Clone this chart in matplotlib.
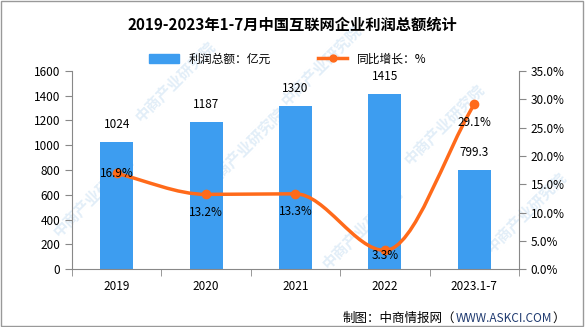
import matplotlib.pyplot as plt
from matplotlib.path import Path
from matplotlib.patches import PathPatch, Rectangle
from matplotlib.lines import Line2D

plt.rcParams['font.family'] = ['Noto Sans CJK SC', 'DejaVu Sans']

years = ['2019', '2020', '2021', '2022', '2023.1-7']
profit = [1024, 1187, 1320, 1415, 799.3]
profit_labels = ['1024', '1187', '1320', '1415', '799.3']
growth = [16.9, 13.2, 13.3, 3.3, 29.1]
growth_labels = ['16.9%', '13.2%', '13.3%', '3.3%', '29.1%']

bar_color = '#3d9df0'
line_color = '#ff6a1a'
axis_color = '#888888'

fig = plt.figure(figsize=(5.85, 3.27), dpi=100)
ax = fig.add_axes([0.123, 0.177, 0.764, 0.606])
ax2 = ax.twinx()
ax.set_facecolor('none')
ax2.set_facecolor('none')

# faint watermarks behind the plot
for wx, wy in [(0.16, 0.40), (0.42, 0.55), (0.62, 0.30), (0.76, 0.62),
               (0.30, 0.75), (0.90, 0.35), (0.55, 0.80)]:
    fig.text(wx, wy, '中商产业研究院', rotation=45, fontsize=11, color='#e2eef8',
             ha='center', va='center', fontweight='bold', zorder=-1)

x = list(range(len(years)))
ax.bar(x, profit, width=0.37, color=bar_color, zorder=2)
for xi, v, s in zip(x, profit, profit_labels):
    ax.annotate(s, (xi, v), xytext=(0, 8), textcoords='offset points',
                ha='center', va='bottom', fontsize=8.5)

ax.set_xlim(-0.5, len(years) - 0.5)
ax.set_ylim(0, 1600)
ax.set_yticks(range(0, 1601, 200))
ax.set_xticks(x)
ax.set_xticklabels(years)
ax.set_xticks([i - 0.5 for i in range(len(years) + 1)], minor=True)
ax.tick_params(axis='x', which='major', length=0, pad=8, labelsize=8.5)
ax.tick_params(axis='x', which='minor', length=5, color=axis_color)
ax.tick_params(axis='y', length=5, color=axis_color, labelsize=8.5)
for s in ['top', 'right']:
    ax.spines[s].set_visible(False)
for s in ['left', 'bottom']:
    ax.spines[s].set_color(axis_color)

ax2.set_ylim(0, 35)
ax2.set_yticks([i * 5 for i in range(8)])
ax2.set_yticklabels(['%.1f%%' % (i * 5) for i in range(8)])
ax2.tick_params(axis='y', length=5, color=axis_color, labelsize=8.5)
for s in ['top', 'left', 'bottom']:
    ax2.spines[s].set_visible(False)
ax2.spines['right'].set_color(axis_color)

# smooth line through the growth points (flat tangent at turning points)
n = len(x)
tang = []
for i in range(n):
    if i == 0:
        tang.append(growth[1] - growth[0])
    elif i == n - 1:
        tang.append(growth[-1] - growth[-2])
    else:
        d1 = growth[i] - growth[i - 1]
        d2 = growth[i + 1] - growth[i]
        tang.append(0 if d1 * d2 <= 0 else (d1 + d2) / 2)
verts = [(x[0], growth[0])]
codes = [Path.MOVETO]
for i in range(n - 1):
    verts += [(x[i] + 1 / 3, growth[i] + tang[i] / 3),
              (x[i + 1] - 1 / 3, growth[i + 1] - tang[i + 1] / 3),
              (x[i + 1], growth[i + 1])]
    codes += [Path.CURVE4] * 3
ax2.add_patch(PathPatch(Path(verts, codes), facecolor='none', edgecolor=line_color,
                        lw=2.5, zorder=3))
ax2.plot(x, growth, 'o', color=line_color, ms=6, zorder=4)

label_offsets = [0, -13, -13, -4, -13]
for xi, v, s, off in zip(x, growth, growth_labels, label_offsets):
    ax2.annotate(s, (xi, v), xytext=(0, off), textcoords='offset points',
                 ha='center', va='center', fontsize=8.5, zorder=5)

fig.text(0.5, 1 - 25 / 327, '2019-2023年1-7月中国互联网企业利润总额统计',
         ha='center', va='center', fontsize=11, fontweight='bold')

handles = [Rectangle((0, 0), 1, 1, color=bar_color),
           Line2D([], [], color=line_color, lw=2.5, marker='o', ms=5)]
fig.legend(handles, ['利润总额：亿元', '同比增长：%'], loc='center',
           bbox_to_anchor=(0.492, 1 - 59 / 327), ncol=2, frameon=False,
           fontsize=8.5, handlelength=2.5, columnspacing=4)

t1 = fig.text(343 / 585, 1 - 318 / 327, '制图：中商情报网（', fontsize=9, va='center')
url = plt.annotate('WWW.ASKCI.COM', xy=(1, 0.5), xycoords=t1, fontsize=8.5,
                   color='#1f3a70', va='center', ha='left', annotation_clip=False)
plt.annotate('）', xy=(1, 0.5), xycoords=url, fontsize=9, va='center', ha='left',
             annotation_clip=False)

fig.patches.append(Rectangle((0.002, 0.004), 0.994, 0.994, transform=fig.transFigure,
                             fill=False, edgecolor='#999999', lw=1))

fig.savefig('out.png', dpi=100)
